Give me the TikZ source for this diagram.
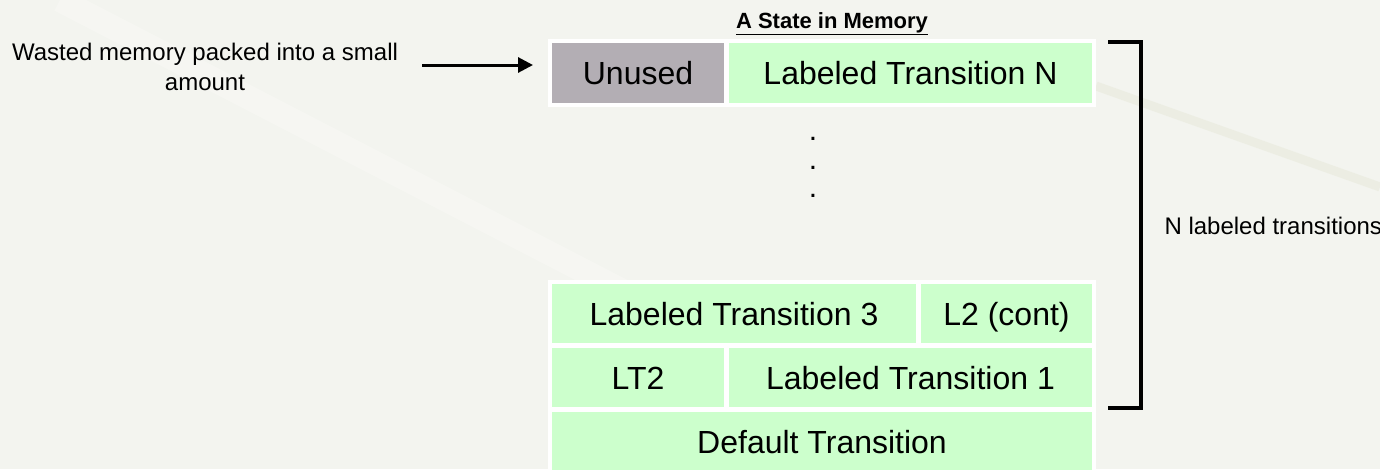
\documentclass[tikz,border=0pt]{standalone}
\usepackage{fontspec}
\setmainfont{Liberation Sans}
\usetikzlibrary{arrows.meta}

\definecolor{paper}{HTML}{F3F4EF}
\definecolor{paperlight}{HTML}{FAFAF7}
\definecolor{paperstreak}{HTML}{E7E9DA}
\definecolor{cellgreen}{HTML}{CCFFCC}
\definecolor{cellgray}{HTML}{B3AEB4}

\begin{document}
\begin{tikzpicture}[x=1pt,y=-1pt,
  cellbox/.style={anchor=north west, inner sep=0pt, outer sep=0pt, draw=none,
    font=\fontsize{32}{38}\selectfont, text=black,
    text height=23pt, text depth=0pt},
  greencell/.style={cellbox, fill=cellgreen},
  graycell/.style={cellbox, fill=cellgray},
  note/.style={font=\fontsize{24}{30}\selectfont, text=black},
  dotmark/.style={anchor=base, inner sep=0pt, font=\fontsize{30}{36}\selectfont},
  pointer/.style={line width=3pt, -{Triangle[length=15pt,width=15pt]}},
  bracketline/.style={line width=3.5pt, line cap=rect}
]
% page and background
\useasboundingbox (0,0) rectangle (1380,469);
\fill[paper] (0,0) rectangle (1380,469);
\draw[paperlight, line width=24pt, opacity=0.45] (60,0) -- (640,300);
\draw[paperstreak, line width=9pt, opacity=0.55] (1096,86) -- (1380,187);

% white frames behind the cells
\fill[white] (548,39) rectangle (1096,107);
\fill[white] (548,280) rectangle (1096,469);

% title
\node[anchor=base, font=\bfseries\fontsize{22}{26}\selectfont] (title) at (832,28)
  {\underline{A State in Memory}};

% top row
\node[graycell, minimum width=172pt, minimum height=60pt] (unused) at (552,43) {Unused};
\node[greencell, minimum width=363pt, minimum height=60pt] (ltn) at (729,43) {Labeled Transition N};

% ellipsis
\node[dotmark] (dotA) at (813,140) {.};
\node[dotmark] (dotB) at (813,169) {.};
\node[dotmark] (dotC) at (813,197) {.};

% lower rows
\node[greencell, minimum width=364pt, minimum height=59pt] (lt3) at (552,284) {Labeled Transition 3};
\node[greencell, minimum width=171pt, minimum height=59pt] (l2c) at (921,284) {L2 (cont)};
\node[greencell, minimum width=172pt, minimum height=59pt] (lt2) at (552,348) {LT2};
\node[greencell, minimum width=363pt, minimum height=59pt] (lt1) at (729,348) {Labeled Transition 1};
\node[greencell, minimum width=540pt, minimum height=59pt] (dflt) at (552,412) {Default Transition};

% note on the left with its pointer
\node[note, align=center] (waste) at (205,67)
  {Wasted memory packed into a small\\amount};
\coordinate (ptail) at (422,65);
\coordinate (ptip) at (533,65);
\draw[pointer] (ptail) -- (ptip);

% bracket over the labeled transitions
\coordinate (brtop) at (1110,42);
\coordinate (brbot) at (1110,408);
\draw[bracketline] (brtop) -- (1141,42) -- (1141,408) -- (brbot);
\node[note, anchor=west] (count) at (1161,226) {N labeled transitions};
\end{tikzpicture}
\end{document}
